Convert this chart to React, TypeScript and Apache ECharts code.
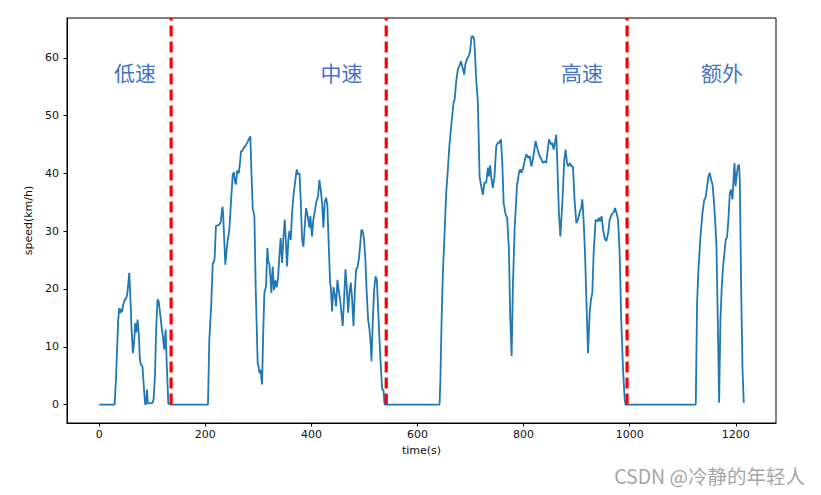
import React, { useEffect, useRef } from "react";
import * as echarts from "echarts";

// Speed trace (time in s, speed in km/h)
const timeS = [
  0, 29, 31.5, 35.8, 37.7, 39.5, 41.5, 43, 45, 48.5, 50.5, 52.5, 54.7, 56.6, 58.5, 61, 63.5, 65.5, 67.9, 70,
  72.3, 74.5, 76.7, 78.5, 81.5, 84.9, 86.8, 88.5, 90, 91.5, 93, 100.6, 102.5, 105, 107.5, 110, 112, 115, 117.5, 120,
  122.6, 125, 127.5, 130.2, 135, 205, 207.5, 211, 214, 216, 217.6, 220, 224, 226.5, 229, 231.5, 232.7, 234, 237.7, 241,
  245.3, 248, 251.6, 254, 256, 257.9, 260, 263, 265, 267.3, 270, 273, 276, 280, 282.5, 284.9, 287, 289.3, 292.5, 295,
  298.7, 300.5, 301.9, 304, 307, 309, 311.3, 314.5, 317, 319, 320.5, 322.5, 324.5, 327, 329.5, 332, 334.5, 337, 339.5, 342,
  344.7, 347, 349.7, 352, 354, 356.5, 358.5, 361, 363.5, 366, 369, 372.3, 374.8, 377.5, 380, 382.3, 384.9, 387.5, 390, 393,
  396.2, 398, 401.1, 403.6, 406, 409, 412.5, 415, 417.5, 420, 422.6, 425, 427.7, 430, 432.5, 435.2, 436.5, 439, 441.5, 444,
  446.6, 449, 451.5, 454, 456.5, 459, 461.5, 464.2, 466.5, 469.2, 471.7, 474.2, 476.7, 479.2, 481.7, 484.3, 486.7, 489.3, 491.7, 494.3,
  496.7, 499.2, 501.7, 504.2, 506.9, 509.4, 511.9, 513.2, 515.7, 518.3, 520.8, 523.3, 525.8, 528.3, 530.8, 533.4, 535.9, 537.5, 538.5, 641.5,
  643, 645.5, 647.8, 651, 654.1, 657.2, 660, 663.5, 667.9, 670, 673, 676, 679, 681.8, 684.5, 688, 690, 693, 696.5, 699,
  701.9, 705, 707, 710.7, 713.8, 717, 720, 723.2, 726, 729.5, 732.7, 734.5, 737, 739.5, 742, 745, 748.4, 751.5, 754, 757.2,
  760, 762.3, 766, 769, 772.3, 774.9, 777.4, 779.8, 783, 787.4, 791.2, 793.5, 796, 799.5, 802.5, 805, 808.5, 811.5, 814.5, 817.5,
  822.6, 826.5, 830.2, 833.5, 836.4, 839.5, 842.5, 847.8, 851.5, 854, 856.6, 859, 861.6, 864, 866.5, 869.2, 873, 876.7, 879.2, 881.7,
  884.3, 886.8, 890.5, 893, 896, 899.4, 902.5, 905.5, 908.5, 910.7, 913, 915.7, 918.5, 921.4, 924.5, 927, 929.5, 932, 935.8, 939.5,
  942, 944.5, 947, 949.7, 953.4, 956, 959.5, 962.3, 966, 969.5, 972.3, 975, 978, 981, 984, 987.4, 990.6, 992, 1124.5, 1127,
  1129.6, 1133.4, 1137.2, 1140.5, 1143.4, 1146, 1148.5, 1150.9, 1153.5, 1156, 1158.5, 1161, 1163.5, 1166, 1168.5, 1171, 1173.6, 1176, 1178.5, 1181,
  1183.5, 1186, 1188.7, 1191, 1193.7, 1196, 1197.5, 1199.4, 1201.5, 1203.8, 1206.2, 1207.5, 1210, 1212.6, 1215,
];
const speedKmh = [
  0, 0, 4.3, 14.7, 16.7, 15.8, 16.6, 16, 17.2, 18.2, 18.3, 18.9, 20.8, 22.8, 19, 13, 8.9, 10.5, 14.1, 12.5,
  14.7, 12.3, 7.8, 6.9, 6.6, 2, 0, 0.2, 2.6, 0.3, 0.2, 0.3, 1, 4.9, 13.5, 18.2, 17.9, 15.6, 13.5, 11.7,
  9.5, 13, 6.5, 0.2, 0, 0, 11.2, 17, 24.5, 24.6, 25.4, 30.9, 31, 31.2, 31.5, 33.8, 34.2, 32, 24.2, 27.6,
  30.3, 34.5, 39.8, 40.2, 38.5, 38.1, 40.5, 40, 41.5, 43.8, 43.9, 44.5, 44.8, 45.5, 46, 46.4, 40, 34, 32.6, 20,
  7.2, 6.5, 5.5, 6, 3.5, 12, 19.3, 20.5, 27.1, 24.5, 24.5, 22.4, 19.3, 23.9, 19.8, 21.5, 20.3, 21.8, 25.5, 28.8,
  24.5, 28.6, 32, 28, 23.9, 28.6, 30, 28.5, 33.1, 36, 38.3, 40.7, 39.8, 40, 35, 28.6, 27.3, 31, 34, 32.6,
  30.6, 32.6, 29.1, 32, 33.2, 35, 36, 38.9, 37.2, 35, 30.6, 35, 35.8, 34.5, 28, 21.1, 20.3, 16.1, 20.3, 19.1,
  17, 21.6, 19.8, 18.2, 15.9, 13.6, 18.2, 23.4, 20.5, 15.9, 19.3, 21.1, 18.2, 13.6, 19.3, 23.4, 23.7, 25.1, 27.4, 30.3,
  30, 28.6, 25.1, 19.3, 14.7, 13, 10.2, 7.5, 14.7, 19.9, 22.2, 21.6, 16.4, 11.2, 6.6, 2.6, 2.5, 0.3, 0, 0,
  4, 15, 22.8, 29.7, 36.6, 40.7, 44.7, 48.2, 52.2, 52.8, 56, 58, 58.6, 59.4, 58.5, 57.1, 58.8, 59.7, 60.3, 61,
  63.7, 63.7, 63, 56.2, 52.2, 39.5, 37.8, 36.3, 38.4, 38.4, 41, 39.5, 41.4, 38.9, 37.5, 39.4, 44.7, 45.3, 45.3, 45.9,
  41.4, 34.9, 32.9, 32.3, 26.8, 14.7, 8.4, 20.5, 30.3, 37.8, 40.1, 40.7, 40.1, 41, 42.4, 43.3, 42.7, 43, 41.2, 42.4,
  45.6, 44.1, 43, 42.4, 41.8, 42.1, 41.8, 45.9, 45, 45.3, 44.1, 45.3, 46.7, 40.5, 33.2, 29.1, 34.9, 42.4, 44.1, 41.8,
  41.2, 41.8, 41.2, 41.2, 35.4, 31.4, 32, 33.2, 34, 35.5, 32, 26.3, 17.6, 8.9, 15.9, 18.2, 19.3, 26.3, 32, 31.7,
  32.3, 31.7, 32.6, 30.3, 28.6, 28.3, 29.8, 32, 32.9, 33.2, 34, 33.2, 32, 26.3, 14.7, 6.1, 0.9, 0, 0, 17.6,
  23.4, 29.1, 33.2, 35.4, 36, 37.8, 39.5, 40.1, 38.9, 38.1, 35.5, 32, 27.4, 14.7, 0.3, 14.7, 20.5, 23.9, 26.2, 28.6,
  28.9, 32, 36.6, 37.2, 35.5, 39.5, 41.8, 37.8, 39.5, 41.2, 41.5, 38.8, 20.5, 6.1, 0.3,
];

const xTicks = [0, 200, 400, 600, 800, 1000, 1200];
const yTicks = [0, 10, 20, 30, 40, 50, 60];
const dividerTimes = [135.5, 541, 995];
const segmentLabels = ["低速", "中速", "高速", "额外"];

const X_MIN = -60.75;
const X_MAX = 1275.75;
const Y_MIN = -3.185;
const Y_MAX = 66.885;

export default function App() {
  const ref = useRef<HTMLDivElement>(null);

  useEffect(() => {
    if (!ref.current) return;
    const chart = echarts.init(ref.current, undefined, { renderer: "svg" });
    const labelX = [135, 341.5, 582, 722];
    const textStyle = { fontFamily: "DejaVu Sans", fontSize: 11, color: "#111" };

    const option: any = {
      animation: false,
      backgroundColor: "#ffffff",
      grid: {
        left: 67,
        right: 45,
        top: 18,
        bottom: 72,
        show: true,
        borderColor: "#000",
        borderWidth: 1,
        backgroundColor: "#ffffff",
      },
      xAxis: {
        type: "value",
        min: X_MIN,
        max: X_MAX,
        name: "time(s)",
        nameLocation: "middle",
        nameGap: 21,
        nameTextStyle: textStyle,
        axisLine: { show: true, onZero: false, lineStyle: { color: "#000", width: 1 } },
        splitLine: { show: false },
        axisTick: { show: true, length: 3.5, lineStyle: { color: "#000", width: 1 }, customValues: xTicks },
        axisLabel: {
          ...textStyle,
          customValues: xTicks,
          margin: 6,
          formatter: (v: number) => String(v),
        },
      },
      yAxis: {
        type: "value",
        min: Y_MIN,
        max: Y_MAX,
        name: "speed(km/h)",
        nameLocation: "middle",
        nameGap: 27,
        nameTextStyle: textStyle,
        axisLine: { show: true, onZero: false, lineStyle: { color: "#000", width: 1 } },
        splitLine: { show: false },
        axisTick: { show: true, length: 3.5, lineStyle: { color: "#000", width: 1 }, customValues: yTicks },
        axisLabel: {
          ...textStyle,
          customValues: yTicks,
          margin: 8,
          formatter: (v: number) => String(v),
        },
      },
      series: [
        {
          type: "line",
          data: timeS.map((t, i) => [t, speedKmh[i]]),
          showSymbol: false,
          symbol: "none",
          lineStyle: { color: "#1f77b4", width: 1.8 },
          z: 2,
          clip: true,
        },
        ...dividerTimes.map((t) => ({
          type: "line",
          data: [
            [t, 0],
            [t, Y_MAX],
          ],
          showSymbol: false,
          symbol: "none",
          lineStyle: { color: "#ff0000", width: 3.2, type: [11, 5] },
          z: 3,
          clip: true,
        })),
      ],
      graphic: [
        ...segmentLabels.map((s, i) => ({
          type: "text",
          x: labelX[i],
          y: 72,
          z: 10,
          style: {
            text: s,
            fill: "#4472c4",
            fontSize: 21,
            fontFamily: "Noto Sans CJK SC",
            align: "center",
            verticalAlign: "middle",
          },
        })),
        {
          type: "text",
          right: 16,
          top: 466,
          style: {
            text: "CSDN @冷静的年轻人",
            fill: "#a6a6a6",
            fontSize: 19.5,
            fontFamily: "Noto Sans CJK SC",
          },
        },
      ],
    };
    chart.setOption(option);
    return () => chart.dispose();
  }, []);

  return (
    <div
      ref={ref}
      style={{ position: "fixed", left: 0, top: 0, width: 821, height: 495, background: "#fff" }}
    />
  );
}
